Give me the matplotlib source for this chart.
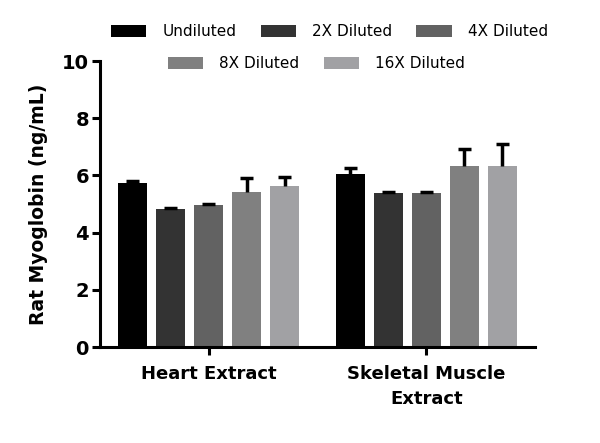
import numpy as np
import matplotlib
matplotlib.use("Agg")
from matplotlib import pyplot as plt
from matplotlib.patches import Patch

groups = ["Heart Extract", "Skeletal Muscle\nExtract"]
series = ["Undiluted", "2X Diluted", "4X Diluted", "8X Diluted", "16X Diluted"]
colors = ["#000000", "#333333", "#626262", "#808080", "#a1a1a4"]

# mean and upper error per series, [heart, skeletal]
means = [
    [5.73, 6.05],
    [4.81, 5.38],
    [4.97, 5.38],
    [5.41, 6.34],
    [5.63, 6.33],
]
errs = [
    [0.08, 0.22],
    [0.06, 0.03],
    [0.04, 0.03],
    [0.51, 0.59],
    [0.32, 0.76],
]

plt.rcParams['font.family'] = ['DejaVu Sans']

fig = plt.figure(figsize=(6, 4.43), dpi=100)
ax = fig.add_axes([0.1667, 0.2167, 0.725, 0.6456])

x = np.arange(len(groups))
step = 0.175
width = 0.134
cap = 0.03
for i, name in enumerate(series):
    pos = x + (i - 2) * step
    m = np.array(means[i])
    top = m + np.array(errs[i])
    ax.bar(pos, m, width, color=colors[i], label=name, zorder=2)
    # upper-only error bars
    ax.vlines(pos, m, top, color='black', linewidth=2.5, zorder=3)
    ax.hlines(top, pos - cap, pos + cap, color='black', linewidth=2.5, zorder=3)

ax.set_xlim(-0.5, 1.5)
ax.set_ylim(0, 10)
ax.set_yticks([0, 2, 4, 6, 8, 10])
ax.set_xticks(x)
ax.set_xticklabels(groups, fontsize=13, fontweight='bold', linespacing=1.5)
for lab in ax.get_yticklabels():
    lab.set_fontsize(14)
    lab.set_fontweight('bold')
ax.set_ylabel("Rat Myoglobin (ng/mL)", fontsize=13.5, fontweight='bold', labelpad=10)
for s in ['top', 'right']:
    ax.spines[s].set_visible(False)
for s in ['left', 'bottom']:
    ax.spines[s].set_linewidth(2.2)
ax.tick_params(axis='y', width=2.2, length=6, pad=2)
ax.tick_params(axis='x', width=2.2, length=6, pad=7)

handles = [Patch(facecolor=c, edgecolor='none') for c in colors]
kw = dict(loc='center', frameon=False, fontsize=11, handlelength=2.3, handleheight=0.78,
          columnspacing=1.6, handletextpad=1.05, borderpad=0.2)
leg1 = fig.legend(handles[:3], series[:3], bbox_to_anchor=(0.549, 0.928), ncol=3, **kw)
leg2 = fig.legend(handles[3:], series[3:], bbox_to_anchor=(0.5275, 0.856), ncol=2, **kw)

fig.savefig("out.png", dpi=100)
